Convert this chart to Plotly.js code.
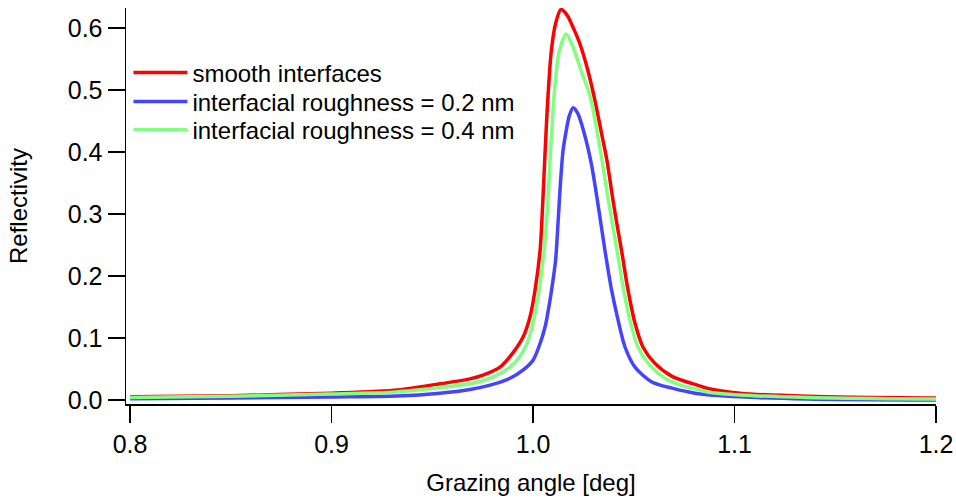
<!DOCTYPE html>
<html>
<head>
<meta charset="utf-8">
<script src="https://cdn.plot.ly/plotly-3.0.1.min.js"></script>
<style>html,body{margin:0;padding:0;background:#fff;}#chart{width:956px;height:499px;}</style>
</head>
<body>
<div id="chart"></div>
<script>
// Series names
const seriesNames = ["smooth interfaces", "interfacial roughness = 0.2 nm", "interfacial roughness = 0.4 nm"];

// Smooth interfaces (red)
const smoothX = [0.80, 0.85, 0.90, 0.933, 0.954, 0.9687, 0.9752, 0.9836, 0.990, 0.995, 0.9985, 1.001, 1.0035, 1.005, 1.0069, 1.0090, 1.0112, 1.0139, 1.0170, 1.0200, 1.0233, 1.0270, 1.0308, 1.0340, 1.0367, 1.0397, 1.0420, 1.0442, 1.0469, 1.0506, 1.0546, 1.0605, 1.069, 1.0804, 1.0864, 1.1027, 1.136, 1.20];
const smoothY = [0.005, 0.007, 0.011, 0.016, 0.026, 0.034, 0.040, 0.053, 0.076, 0.101, 0.134, 0.177, 0.241, 0.330, 0.460, 0.560, 0.607, 0.630, 0.620, 0.600, 0.574, 0.534, 0.482, 0.430, 0.386, 0.322, 0.277, 0.236, 0.182, 0.124, 0.085, 0.059, 0.038, 0.025, 0.019, 0.011, 0.006, 0.003];

// Roughness 0.2 nm (blue)
const rough02X = [0.80, 0.85, 0.8993, 0.9325, 0.9538, 0.9687, 0.9787, 0.9886, 0.995, 1.000, 1.0035, 1.006, 1.0076, 1.0092, 1.0112, 1.0125, 1.0136, 1.0149, 1.0162, 1.0180, 1.0199, 1.0222, 1.0250, 1.0290, 1.0325, 1.0357, 1.0390, 1.0422, 1.0457, 1.0506, 1.059, 1.069, 1.0804, 1.1027, 1.136, 1.20];
const rough02Y = [0.002, 0.003, 0.0048, 0.0064, 0.011, 0.017, 0.024, 0.035, 0.048, 0.064, 0.091, 0.118, 0.145, 0.177, 0.225, 0.290, 0.349, 0.402, 0.429, 0.458, 0.471, 0.462, 0.435, 0.380, 0.310, 0.241, 0.177, 0.129, 0.085, 0.053, 0.029, 0.019, 0.011, 0.005, 0.0016, 0.0];

// Roughness 0.4 nm (green)
const rough04X = [0.80, 0.85, 0.8993, 0.9325, 0.9538, 0.9687, 0.977, 0.985, 0.992, 0.997, 1.000, 1.003, 1.0055, 1.0074, 1.0087, 1.0100, 1.0114, 1.0130, 1.0164, 1.0200, 1.0233, 1.0283, 1.0333, 1.0375, 1.0417, 1.0450, 1.0481, 1.0521, 1.058, 1.0655, 1.074, 1.0804, 1.0864, 1.1027, 1.136, 1.20];
const rough04Y = [0.004, 0.006, 0.0095, 0.013, 0.020, 0.026, 0.033, 0.045, 0.064, 0.091, 0.124, 0.177, 0.241, 0.322, 0.400, 0.470, 0.525, 0.562, 0.590, 0.568, 0.536, 0.490, 0.405, 0.320, 0.241, 0.177, 0.129, 0.085, 0.056, 0.035, 0.023, 0.018, 0.013, 0.008, 0.004, 0.0015];

const xTicks = [0.8, 0.9, 1.0, 1.1, 1.2];
const xTickText = ["0.8", "0.9", "1.0", "1.1", "1.2"];
const yTicks = [0.0, 0.1, 0.2, 0.3, 0.4, 0.5, 0.6];
const yTickText = ["0.0", "0.1", "0.2", "0.3", "0.4", "0.5", "0.6"];

const FONT = "Liberation Sans, Arial, sans-serif";

const mk = (x, y, name, color, lg) => ({
  x: x, y: y, name: name, type: "scatter", mode: "lines",
  legend: lg,
  line: {color: color, width: 3.5, shape: "spline", smoothing: 0.8}
});

const traces = [
  mk(smoothX, smoothY, seriesNames[0], "#ff0000", "legend"),
  mk(rough02X, rough02Y, seriesNames[1], "#4444ff", "legend2"),
  mk(rough04X, rough04Y, seriesNames[2], "#80ff80", "legend3")
];

const legBase = (yy) => ({
  x: 0.003, y: yy, xanchor: "left", yanchor: "middle",
  bgcolor: "rgba(0,0,0,0)", borderwidth: 0,
  font: {family: FONT, size: 24, color: "#000"},
  itemwidth: 54
});

const layout = {
  width: 956, height: 499,
  margin: {l: 126, r: 20, t: 8, b: 95, pad: 0},
  paper_bgcolor: "#ffffff", plot_bgcolor: "#ffffff",
  font: {family: FONT, size: 24, color: "#000"},
  showlegend: true,
  legend: legBase(0.836),
  legend2: legBase(0.7626),
  legend3: legBase(0.692),
  xaxis: {
    range: [0.798, 1.2], tickvals: xTicks, ticktext: xTickText,
    showgrid: false, zeroline: false, showline: true, linecolor: "#000", linewidth: 1.5,
    ticks: "outside", ticklen: 17, tickwidth: 1.5, tickcolor: "#000",
    tickfont: {family: FONT, size: 25},
    title: {text: "Grazing angle [deg]", font: {family: FONT, size: 24}, standoff: 17}
  },
  yaxis: {
    range: [-0.0065, 0.632], tickvals: yTicks, ticktext: yTickText,
    showgrid: false, zeroline: false, showline: true, linecolor: "#000", linewidth: 1.5,
    ticks: "outside", ticklen: 17, tickwidth: 1.5, tickcolor: "#000",
    tickfont: {family: FONT, size: 25},
    title: {text: "Reflectivity", font: {family: FONT, size: 24}, standoff: 33}
  }
};

Plotly.newPlot("chart", traces, layout, {displayModeBar: false, staticPlot: true});
</script>
</body>
</html>
